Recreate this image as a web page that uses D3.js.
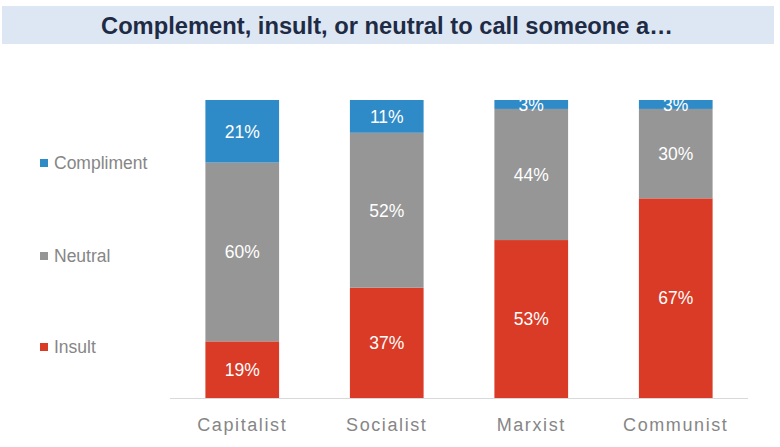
<!DOCTYPE html>
<html>
<head>
<meta charset="utf-8">
<script src="https://cdn.jsdelivr.net/npm/d3@7"></script>
<style>
  body { margin: 0; background: #fff; }
  svg { display: block; font-family: "Liberation Sans", Arial, sans-serif; }
</style>
</head>
<body>
<svg></svg>
<script>
const categories = ['Capitalist', 'Socialist', 'Marxist', 'Communist'];
const seriesNames = ['Insult', 'Neutral', 'Compliment'];
const insult = [19, 37, 53, 67];
const neutral = [60, 52, 44, 30];
const compliment = [21, 11, 3, 3];
const yTicks = [0, 100];

const colors = { Insult: '#d93b26', Neutral: '#969696', Compliment: '#2e8bc8' };

const width = 780;
const height = 447;
const plot = { left: 170, right: 748, top: 100, bottom: 398 };

const svg = d3.select('svg')
  .attr('width', width)
  .attr('height', height);

// title banner
svg.append('rect')
  .attr('x', 2).attr('y', 6)
  .attr('width', 772).attr('height', 38)
  .style('fill', '#dde7f3');

svg.append('text')
  .attr('x', 387).attr('y', 34)
  .attr('text-anchor', 'middle')
  .attr('textLength', 572)
  .attr('lengthAdjust', 'spacingAndGlyphs')
  .style('font-size', '23px')
  .style('font-weight', 'bold')
  .style('fill', '#1f2b45')
  .text('Complement, insult, or neutral to call someone a…');

const rows = categories.map((c, i) => ({
  category: c,
  Insult: insult[i],
  Neutral: neutral[i],
  Compliment: compliment[i]
}));

const stacked = d3.stack().keys(seriesNames)(rows);

const xScale = d3.scaleBand()
  .domain(categories)
  .range([plot.left, plot.right])
  .paddingInner(0.49)
  .paddingOuter(0.245);

const yScale = d3.scaleLinear()
  .domain(d3.extent(yTicks))
  .range([plot.bottom, plot.top]);

svg.append('clipPath')
  .attr('id', 'plot-clip')
  .append('rect')
  .attr('x', plot.left).attr('y', plot.top)
  .attr('width', plot.right - plot.left)
  .attr('height', plot.bottom - plot.top);

const layers = svg.append('g')
  .attr('clip-path', 'url(#plot-clip)')
  .selectAll('g')
  .data(stacked)
  .enter()
  .append('g')
  .style('fill', d => colors[d.key]);

layers.selectAll('rect')
  .data(d => d)
  .enter()
  .append('rect')
  .attr('x', d => xScale(d.data.category))
  .attr('y', d => yScale(d[1]))
  .attr('width', xScale.bandwidth())
  .attr('height', d => yScale(d[0]) - yScale(d[1]));

layers.selectAll('text')
  .data(d => d)
  .enter()
  .append('text')
  .attr('x', d => xScale(d.data.category) + xScale.bandwidth() / 2)
  .attr('y', d => (yScale(d[0]) + yScale(d[1])) / 2)
  .attr('dy', '0.36em')
  .attr('text-anchor', 'middle')
  .style('fill', '#fff')
  .style('font-size', '17.5px')
  .text(d => `${d[1] - d[0]}%`);

// x axis
const xAxis = svg.append('g')
  .attr('transform', `translate(0, ${plot.bottom})`)
  .call(d3.axisBottom(xScale).tickSize(0).tickPadding(20));

xAxis.select('.domain')
  .attr('d', `M${plot.left},0.5H${plot.right}`)
  .style('stroke', '#d9d9d9');

xAxis.selectAll('text')
  .style('font-family', '"Liberation Sans", Arial, sans-serif')
  .style('font-size', '18px')
  .style('letter-spacing', '1.6px')
  .style('fill', '#868686');

// legend
const legendY = { Compliment: 163, Neutral: 256, Insult: 347 };
const legend = svg.append('g')
  .selectAll('g')
  .data(seriesNames)
  .enter()
  .append('g')
  .attr('transform', d => `translate(40, ${legendY[d]})`);

legend.append('rect')
  .attr('x', 0).attr('y', -4)
  .attr('width', 8).attr('height', 8)
  .style('fill', d => colors[d]);

legend.append('text')
  .attr('x', 14).attr('y', 0)
  .attr('dy', '0.36em')
  .style('font-size', '17.5px')
  .style('fill', '#868686')
  .text(d => d);
</script>
</body>
</html>
